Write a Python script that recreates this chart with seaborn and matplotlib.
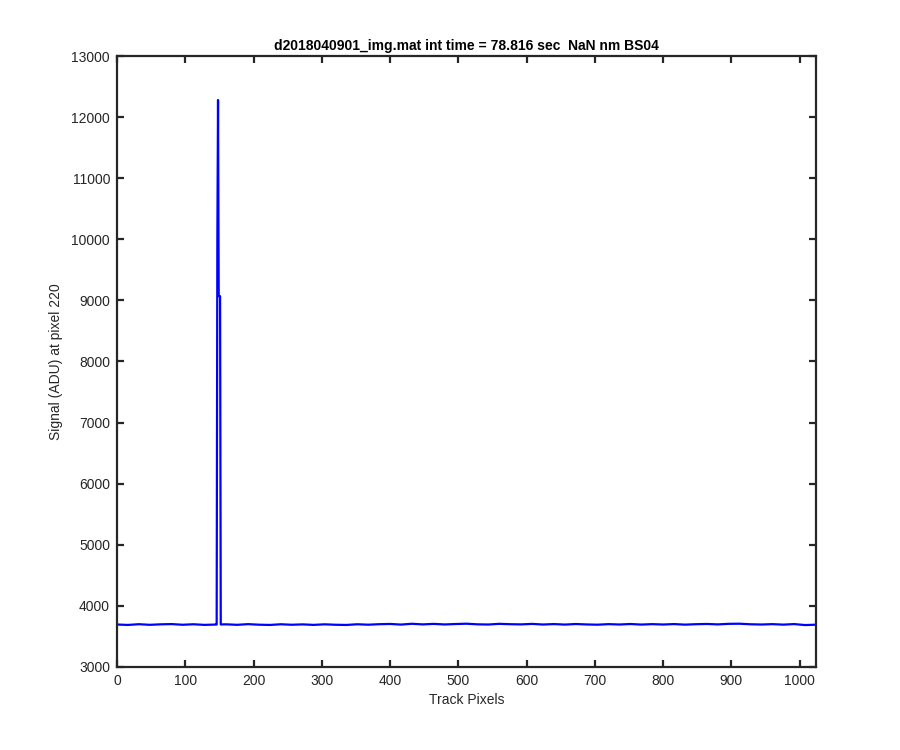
import numpy as np
import pandas as pd
import matplotlib
matplotlib.use('Agg')
import matplotlib.pyplot as plt
import seaborn as sns

# baseline readings (ADU) every 16 track pixels
baseline_px = [0, 16, 32, 48, 64, 80, 96, 112, 128, 144,
               160, 176, 192, 208, 224, 240, 256, 272, 288, 304,
               320, 336, 352, 368, 384, 400, 416, 432, 448, 464,
               480, 496, 512, 528, 544, 560, 576, 592, 608, 624,
               640, 656, 672, 688, 704, 720, 736, 752, 768, 784,
               800, 816, 832, 848, 864, 880, 896, 912, 928, 944,
               960, 976, 992, 1008, 1024]
baseline_adu = [3695, 3688, 3700, 3690, 3698, 3702, 3691, 3699, 3689, 3694,
                3698, 3690, 3701, 3692, 3688, 3699, 3691, 3697, 3689, 3698,
                3691, 3688, 3699, 3692, 3700, 3704, 3694, 3707, 3697, 3705,
                3696, 3703, 3708, 3698, 3695, 3706, 3700, 3697, 3705, 3695,
                3702, 3694, 3703, 3696, 3692, 3701, 3695, 3703, 3694, 3701,
                3695, 3702, 3693, 3700, 3704, 3697, 3706, 3708, 3699, 3695,
                3701, 3693, 3702, 3686, 3692]

# cosmic-ray spike near pixel 148
spike_px = [146, 147, 148, 149, 150, 151, 152]
spike_adu = [3695, 9950, 12280, 9070, 9070, 9070, 3696]

df = pd.DataFrame({'px': baseline_px + spike_px, 'adu': baseline_adu + spike_adu})
df = df.sort_values('px').reset_index(drop=True)

sns.set_style('white')
plt.rcParams['font.family'] = ['Liberation Sans', 'DejaVu Sans']

fig = plt.figure(figsize=(9, 7.5), dpi=100)
ax = fig.add_axes([0.13, 0.1107, 0.7767, 0.8146])

sns.lineplot(data=df, x='px', y='adu', ax=ax, color='#0000ff', linewidth=1.6,
             estimator=None, sort=True)

ax.set_xlim(0, 1024)
ax.set_ylim(3000, 13000)
ax.set_xticks(np.arange(0, 1001, 100))
ax.set_yticks(np.arange(3000, 13001, 1000))

ax.set_title('d2018040901_img.mat int time = 78.816 sec  NaN nm BS04',
             fontsize=10, fontweight='bold', color='black', pad=4)
ax.set_xlabel('Track Pixels', fontsize=10, color='#262626', labelpad=4)
ax.set_ylabel('Signal (ADU) at pixel 220', fontsize=10, color='#262626', labelpad=6)

for s in ax.spines.values():
    s.set_color('#262626')
    s.set_linewidth(1.6)
    s.set_visible(True)
ax.tick_params(direction='in', length=5, width=1.6, color='#262626',
               labelsize=10, labelcolor='#262626', top=True, right=True,
               left=True, bottom=True, pad=5)

fig.savefig('out.png', dpi=100)
